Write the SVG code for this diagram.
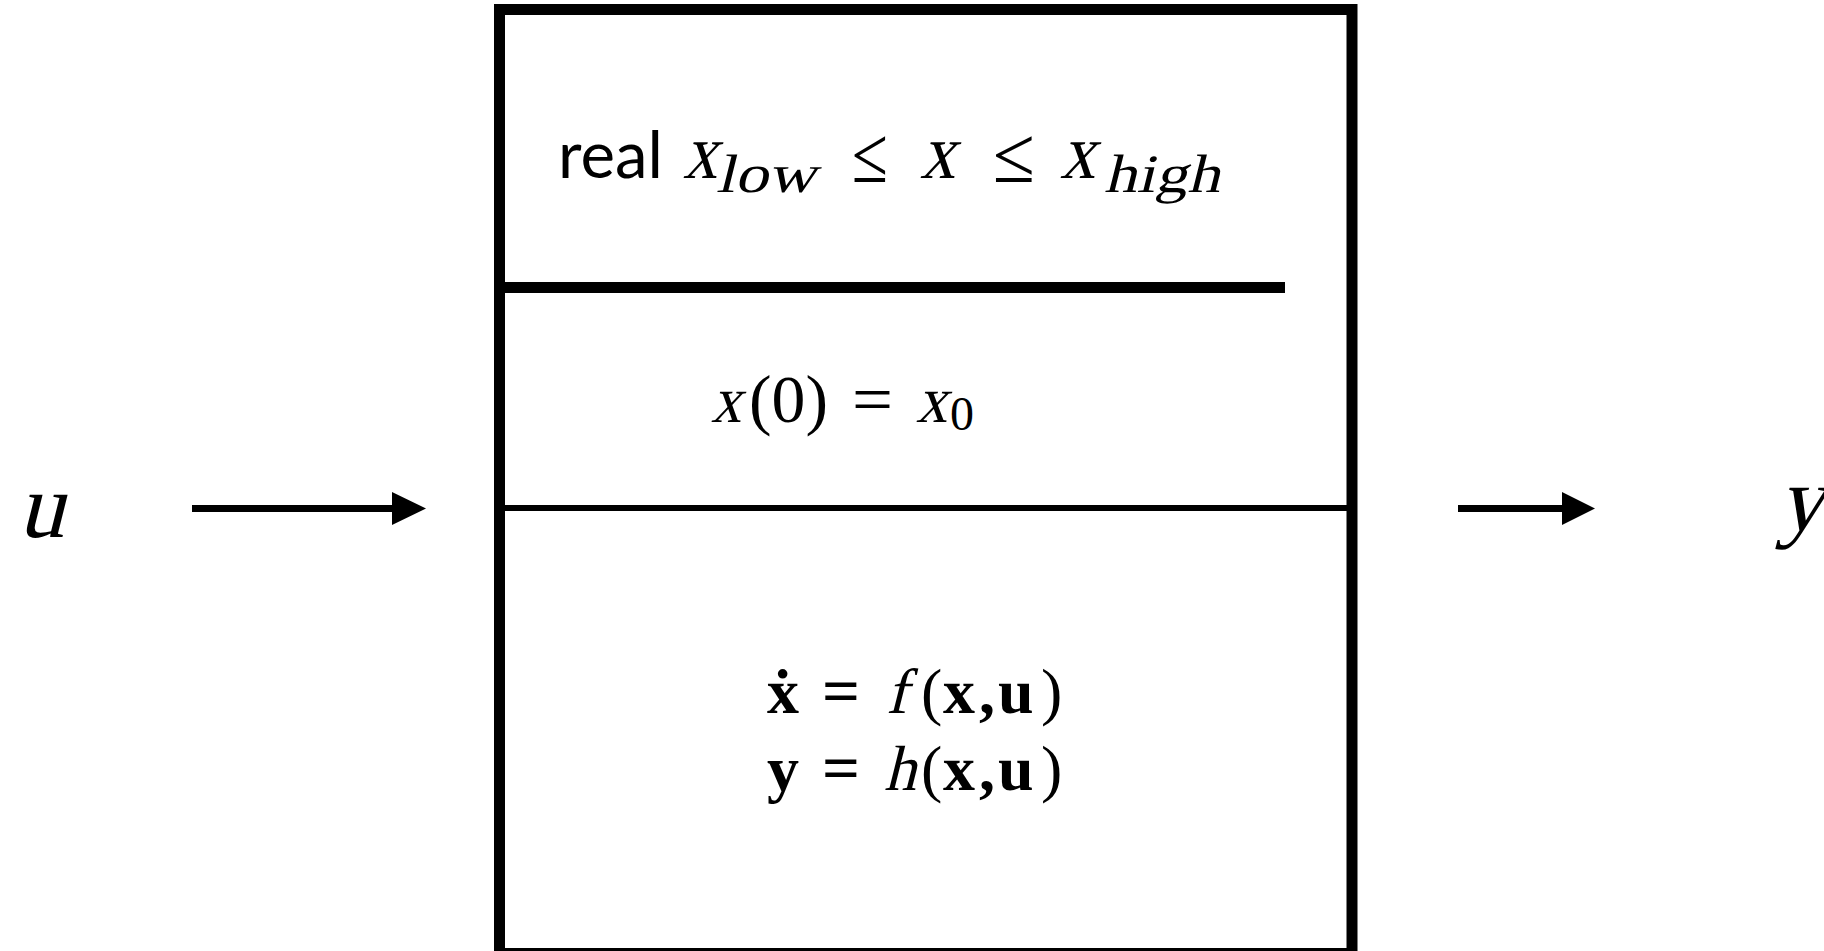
<svg xmlns="http://www.w3.org/2000/svg" width="1824" height="951" viewBox="0 0 1824 951">
<defs>
<style>
.ln{stroke:#000;fill:none}
.m{font-family:"Liberation Serif","Times New Roman",serif;fill:#000}
.b{font-weight:bold}
.s{font-family:Lato,"Open Sans",sans-serif;fill:#000}
</style>
</defs>
<rect width="1824" height="951" fill="#fff"/>
<g id="block">
<rect class="ln" x="499.5" y="9.5" width="852.5" height="944" stroke-width="11"/>
<line class="ln" x1="500" y1="287.5" x2="1285" y2="287.5" stroke-width="11"/>
<line class="ln" x1="500" y1="508" x2="1352" y2="508" stroke-width="6"/>
</g>
<g id="constraint">
<text class="s" x="558" y="178" font-size="66" textLength="105" lengthAdjust="spacingAndGlyphs">real</text>
<text class="m" transform="translate(683,178) skewX(-14)" font-size="78" textLength="34" lengthAdjust="spacingAndGlyphs">x</text>
<text class="m" transform="translate(716,192) skewX(-14)" font-size="54" textLength="100" lengthAdjust="spacingAndGlyphs">low</text>
<text class="m" x="852" y="182" font-size="80" textLength="36" lengthAdjust="spacingAndGlyphs">≤</text>
<text class="m" transform="translate(920,178) skewX(-14)" font-size="78" textLength="35" lengthAdjust="spacingAndGlyphs">x</text>
<text class="m" x="993" y="182" font-size="80" textLength="42" lengthAdjust="spacingAndGlyphs">≤</text>
<text class="m" transform="translate(1060,178) skewX(-14)" font-size="78" textLength="35" lengthAdjust="spacingAndGlyphs">x</text>
<text class="m" transform="translate(1104,192) skewX(-14)" font-size="54" textLength="116" lengthAdjust="spacingAndGlyphs">high</text>
</g>
<g id="initial">
<text class="m" transform="translate(711,422) skewX(-14)" font-size="66" textLength="30" lengthAdjust="spacingAndGlyphs">x</text>
<text class="m" x="749" y="422" font-size="67" textLength="79" lengthAdjust="spacingAndGlyphs">(0)</text>
<text class="m" x="852" y="422" font-size="67" textLength="41" lengthAdjust="spacingAndGlyphs">=</text>
<text class="m" transform="translate(916,422) skewX(-14)" font-size="66" textLength="31" lengthAdjust="spacingAndGlyphs">x</text>
<text class="m" x="950" y="430" font-size="48">0</text>
</g>
<g id="equations">
<text class="m" y="713" font-size="64"><tspan class="b" x="767">ẋ</tspan><tspan x="921">(</tspan><tspan class="b" x="943">x</tspan><tspan class="b" x="979">,</tspan><tspan class="b" x="998">u</tspan><tspan x="1041">)</tspan></text>
<text class="m b" x="822" y="713" font-size="66" textLength="38" lengthAdjust="spacingAndGlyphs">=</text>
<text class="m" transform="translate(886,713) skewX(-14)" font-size="64">f</text>
<text class="m" y="790" font-size="64"><tspan class="b" x="767">y</tspan><tspan x="921">(</tspan><tspan class="b" x="943">x</tspan><tspan class="b" x="979">,</tspan><tspan class="b" x="998">u</tspan><tspan x="1041">)</tspan></text>
<text class="m b" x="822" y="790" font-size="66" textLength="38" lengthAdjust="spacingAndGlyphs">=</text>
<text class="m" transform="translate(884,790) skewX(-14)" font-size="64">h</text>
</g>
<g id="input-u">
<text class="m" transform="translate(18,537) skewX(-14)" font-size="92" textLength="46" lengthAdjust="spacingAndGlyphs">u</text>
</g>
<g id="output-y">
<text class="m" transform="translate(1778,530) skewX(-14)" font-size="92">y</text>
</g>
<g id="connectors">
<line class="ln" x1="192" y1="508.5" x2="394" y2="508.5" stroke-width="7"/>
<polygon points="392,492 426,508.5 392,525" fill="#000"/>
<line class="ln" x1="1458" y1="508.5" x2="1564" y2="508.5" stroke-width="7"/>
<polygon points="1562,492 1595,508.5 1562,525" fill="#000"/>
</g>
</svg>
